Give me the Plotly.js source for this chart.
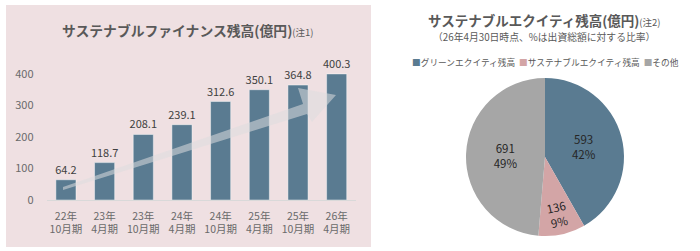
<!DOCTYPE html>
<html><head><meta charset="utf-8">
<script src="https://cdn.plot.ly/plotly-3.0.1.min.js"></script>
<style>html,body{margin:0;padding:0;background:#fff}#c{width:700px;height:251px}</style>
</head><body><div id="c"></div>
<script>
// ---- data ----
const periods = ["22年<br>10月期","23年<br>4月期","23年<br>10月期","24年<br>4月期","24年<br>10月期","25年<br>4月期","25年<br>10月期","26年<br>4月期"];
const financeBalance = [64.2, 118.7, 208.1, 239.1, 312.6, 350.1, 364.8, 400.3];
const equityLabels = ["グリーンエクイティ残高","サステナブルエクイティ残高","その他"];
const equityValues = [593, 136, 691];
const equityShares = ["42%","9%","49%"];
const yTicks = [0,100,200,300,400];

const W = 700, H = 251;
const px = x => x / W, py = y => 1 - y / H;
const blue = "#5a7b91", pink = "#d3a5a6", gray = "#a6a6a6";
const txt = "#595959", tick = "#6a6a6a";
const font = "'Noto Sans CJK JP', 'Noto Sans', sans-serif";

const bar = {
  type: "bar", x: periods, y: financeBalance,
  marker: {color: blue, line: {color: "rgba(255,255,255,0.45)", width: 1}},
  text: financeBalance.map(v => v.toFixed(1)), textposition: "outside", constraintext: "none",
  textfont: {size: 11, color: "#404040", family: font},
  cliponaxis: false, hoverinfo: "skip", showlegend: false
};
const pie = {
  type: "pie", labels: equityLabels, values: equityValues, customdata: equityShares,
  sort: false, direction: "clockwise", rotation: 0,
  marker: {colors: [blue, pink, gray], line: {width: 0}},
  texttemplate: "%{value}<br>%{customdata}", textposition: "inside",
  insidetextfont: {size: 11.5, color: "#262626", family: font},
  domain: {x: [px(466), px(624)], y: [py(236), py(78)]},
  showlegend: false, hoverinfo: "skip"
};

const ann = (text, x, y, size) => ({text, x: px(x), y: py(y), xref: "paper", yref: "paper",
  xanchor: "center", yanchor: "middle", showarrow: false, font: {size, color: txt, family: font}});

const annotations = [
  ann("<b>サステナブルファイナンス残高(億円)</b><span style='font-size:9.5px'>(注1)</span>", 188, 30, 13.8),
  ann("<b>サステナブルエクイティ残高(億円)</b><span style='font-size:9.5px'>(注2)</span>", 544, 20, 13.5),
  ann("（26年4月30日時点、%は出資総額に対する比率）", 544, 37, 9.8),
  ann(equityLabels.map((l, i) => "<span style='color:" + [blue, pink, gray][i] + "'>■</span>" + l).join("  "), 545, 62, 8.7)
];

const arrowPts = [[63,190],[307,114],[312,122],[336,95],[298,88],[303,104],[63,187]];
const arrowPath = "M" + arrowPts.map(p => px(p[0]).toFixed(4) + "," + py(p[1]).toFixed(4)).join(" L") + " Z";

const layout = {
  width: W, height: H, margin: {l: 0, r: 0, t: 0, b: 0},
  paper_bgcolor: "#ffffff", plot_bgcolor: "rgba(0,0,0,0)",
  font: {family: font, color: txt},
  bargap: 0.48,
  xaxis: {domain: [px(46.6), px(356)], anchor: "y", showgrid: false, showline: true,
          linecolor: "#d9d9d9", linewidth: 1, ticks: "", ticklabelstandoff: 6,
          tickfont: {size: 10.5, color: tick, family: font}, fixedrange: true},
  yaxis: {domain: [py(200), py(200 - 440 * 0.315)], range: [0, 440], tickvals: yTicks,
          showgrid: false, zeroline: false, showline: false, ticks: "", ticklabelstandoff: 12,
          tickfont: {size: 11, color: tick, family: font}, fixedrange: true},
  shapes: [
    {type: "rect", xref: "paper", yref: "paper", x0: px(6), x1: px(371), y0: py(247), y1: py(5),
     fillcolor: "#efe0e2", line: {width: 0}, layer: "below"},
    {type: "path", xref: "paper", yref: "paper", path: arrowPath,
     fillcolor: "rgba(220,220,222,0.55)", line: {width: 0}, layer: "above"}
  ],
  annotations: annotations
};
Plotly.newPlot("c", [bar, pie], layout, {staticPlot: true});
</script></body></html>
